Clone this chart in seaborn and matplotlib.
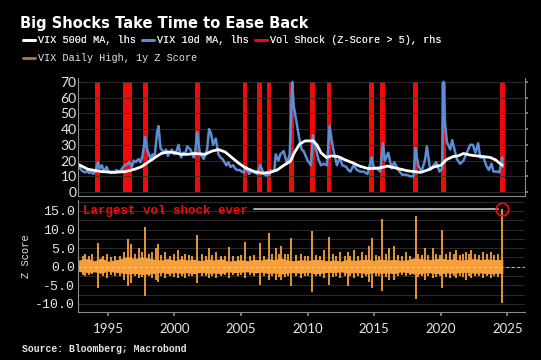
"""
Big Shocks Take Time to Ease Back
VIX 10d / 500d moving averages with vol-shock flags, plus the 1y Z score of the VIX daily high.
"""

import matplotlib.pyplot as plt
import seaborn as sns
from matplotlib.lines import Line2D
from matplotlib.ticker import FormatStrFormatter, MultipleLocator

# ---- data (decimal years) ----
vix10_years = [
    1992.8, 1993.0, 1993.15, 1993.3, 1993.45, 1993.6, 1993.75, 1993.9, 1994.1, 1994.25,
    1994.4, 1994.55, 1994.7, 1994.9, 1995.05, 1995.2, 1995.35, 1995.5, 1995.65, 1995.8,
    1996.0, 1996.15, 1996.3, 1996.5, 1996.6, 1996.8, 1996.95, 1997.1, 1997.3, 1997.45,
    1997.6, 1997.8, 1997.95, 1998.2, 1998.35, 1998.5, 1998.7, 1998.8, 1998.95, 1999.2,
    1999.35, 1999.5, 1999.8, 2000.0, 2000.15, 2000.3, 2000.5, 2000.65, 2000.8, 2000.95,
    2001.2, 2001.45, 2001.55, 2001.7, 2001.9, 2002.05, 2002.2, 2002.45, 2002.6, 2002.75,
    2002.9, 2003.1, 2003.3, 2003.45, 2003.6, 2003.9, 2004.05, 2004.2, 2004.4, 2004.55,
    2004.7, 2004.9, 2005.05, 2005.2, 2005.4, 2005.6, 2005.75, 2005.9, 2006.2, 2006.45,
    2006.7, 2006.9, 2007.1, 2007.2, 2007.35, 2007.5, 2007.6, 2007.8, 2007.95, 2008.2,
    2008.45, 2008.65, 2008.75, 2008.8, 2008.85, 2008.95, 2009.15, 2009.35, 2009.55, 2009.7,
    2009.8, 2010.0, 2010.25, 2010.4, 2010.55, 2010.8, 2011.0, 2011.2, 2011.45, 2011.65,
    2011.8, 2011.95, 2012.2, 2012.4, 2012.6, 2012.9, 2013.05, 2013.2, 2013.45, 2013.7,
    2013.95, 2014.2, 2014.5, 2014.8, 2014.95, 2015.2, 2015.45, 2015.65, 2015.8, 2016.05,
    2016.3, 2016.5, 2016.8, 2017.1, 2017.4, 2017.7, 2017.95, 2018.1, 2018.3, 2018.55,
    2018.8, 2018.95, 2019.2, 2019.45, 2019.65, 2019.9, 2020.1, 2020.2, 2020.3, 2020.45,
    2020.7, 2020.85, 2021.05, 2021.2, 2021.45, 2021.7, 2021.95, 2022.2, 2022.4, 2022.6,
    2022.8, 2022.95, 2023.2, 2023.4, 2023.6, 2023.8, 2023.95, 2024.2, 2024.4, 2024.6,
    2024.65,
]
vix10_vals = [
    17, 14, 13, 12.5, 13.5, 12, 13, 11.5, 14, 19,
    15, 17, 13, 16, 13, 12, 13, 12.5, 14, 13,
    14, 16, 17, 18, 19, 16, 20, 19, 21, 19,
    23, 35, 27, 21, 24, 22, 38, 42, 28, 25,
    27, 23, 27, 24, 26, 30, 22, 25, 24, 29,
    27, 22, 25, 38, 25, 23, 21, 27, 40, 37,
    30, 34, 24, 22, 21, 17, 19, 16, 17, 15,
    14, 14, 13, 12.5, 16, 11.5, 13, 13, 11.5, 17,
    11.5, 10.5, 11, 14, 13, 14, 24, 20, 24, 26,
    18, 24, 45, 60, 70, 55, 45, 35, 27, 26,
    24, 20, 17, 36, 30, 21, 17, 18, 17, 42,
    33, 26, 17, 22, 17, 16, 14, 13, 17, 14,
    13, 13, 11.5, 22, 16, 15, 13, 31, 20, 25,
    15, 19, 14, 11, 11, 10, 10, 28, 17, 13,
    20, 29, 14, 17, 19, 13, 15, 70, 45, 32,
    27, 33, 26, 21, 18, 20, 25, 30, 30, 25,
    31, 22, 22, 17, 14, 18, 13, 13, 12.5, 22,
    16,
]

ma500_years = [
    1992.8, 1993.5, 1994.5, 1995.5, 1996.3, 1997.0, 1997.5, 1998.2, 1999.0, 1999.5,
    2000.0, 2000.5, 2001.0, 2001.5, 2002.3, 2002.8, 2003.3, 2003.8, 2004.3, 2004.8,
    2005.3, 2006.0, 2006.6, 2007.2, 2007.7, 2008.3, 2008.7, 2009.0, 2009.4, 2009.8,
    2010.4, 2010.7, 2011.0, 2011.4, 2011.8, 2012.3, 2012.8, 2013.4, 2013.9, 2014.5,
    2015.0, 2015.5, 2016.0, 2016.5, 2017.0, 2017.5, 2018.0, 2018.5, 2019.0, 2019.5,
    2020.0, 2020.4, 2020.9, 2021.3, 2021.7, 2022.2, 2022.7, 2023.2, 2023.7, 2024.1,
    2024.6,
]
ma500_vals = [
    17.5, 14.5, 13, 12.5, 13, 14.5, 16, 20, 24.5, 25.5,
    25, 24, 24, 24.5, 24, 26, 27, 25.5, 22, 18.5,
    15.5, 13, 12, 12.5, 14, 17.5, 19.5, 25, 30.5, 32.5,
    32.5, 30, 25, 22, 23, 22.5, 20.5, 18.5, 16.5, 15,
    15, 15.5, 16.5, 15.5, 14.5, 13.5, 13, 12.5, 14, 16,
    17, 20.5, 22.5, 23, 24.5, 23.5, 23, 22.5, 22, 20.5,
    17,
]

shock_years = [1994.2, 1996.3, 1996.6, 1997.85, 2001.7, 2005.3, 2006.4, 2007.1,
               2008.8, 2010.35, 2011.6, 2014.8, 2015.6, 2018.1, 2020.2, 2024.6]
shock_flag = [1, 1, 1, 1, 1, 1, 1, 1, 1, 1, 1, 1, 1, 1, 1, 1]

# body of the z score: typical daily range per half year
band_years = [1992.8, 1993.5, 1994.0, 1994.5, 1995.0, 1995.5, 1996.0, 1996.5, 1997.0,
              1997.5, 1998.0, 1998.5, 1999.0, 1999.5, 2000.0, 2000.5, 2001.0, 2001.5,
              2002.0, 2002.5, 2003.0, 2003.5, 2004.0, 2004.5, 2005.0, 2005.5, 2006.0,
              2006.5, 2007.0, 2007.5, 2008.0, 2008.5, 2009.0, 2009.5, 2010.0, 2010.5,
              2011.0, 2011.5, 2012.0, 2012.5, 2013.0, 2013.5, 2014.0, 2014.5, 2015.0,
              2015.5, 2016.0, 2016.5, 2017.0, 2017.5, 2018.0, 2018.5, 2019.0, 2019.5,
              2020.0, 2020.5, 2021.0, 2021.5, 2022.0, 2022.5, 2023.0, 2023.5, 2024.0,
              2024.65]
band_hi = [1.8, 2.2, 1.6, 2.4, 1.5, 1.8, 2.2, 2.8, 2.2, 2.6, 2.4, 2.0, 1.8, 2.2, 1.7,
           2.2, 1.8, 2.0, 1.6, 2.1, 1.8, 2.2, 1.5, 1.7, 1.9, 1.6, 2.0, 1.8, 2.2, 1.9,
           2.4, 1.8, 1.6, 1.9, 1.7, 2.0, 1.9, 1.6, 1.8, 1.5, 2.0, 1.7, 1.9, 2.0, 1.7,
           2.1, 1.8, 2.0, 1.7, 1.9, 2.4, 2.2, 1.9, 2.1, 2.3, 2.0, 2.1, 1.8, 2.0, 2.2,
           1.9, 2.1, 1.9, 2.0]
band_lo = [-1.3, -1.6, -1.4, -1.8, -1.2, -1.5, -1.7, -2.0, -1.8, -2.1, -2.0, -1.8,
           -1.5, -1.9, -1.6, -1.8, -1.6, -1.9, -1.5, -1.8, -1.7, -1.9, -1.4, -1.6, -1.5,
           -1.4, -1.7, -1.5, -1.8, -1.7, -2.0, -1.7, -1.6, -1.8, -1.5, -1.9, -1.8, -1.5,
           -1.6, -1.4, -1.8, -1.6, -1.7, -1.9, -1.6, -1.8, -1.7, -1.9, -1.4, -1.6, -2.0,
           -1.9, -1.6, -1.8, -1.9, -1.7, -1.8, -1.6, -1.5, -1.8, -1.7, -1.9, -1.8, -1.8]

# individual spikes of the z score
spike_years = [1993.1, 1993.3, 1993.6, 1993.8, 1994.25, 1994.6, 1994.9, 1995.2, 1995.5,
               1995.9, 1996.2, 1996.5, 1996.7, 1997.0, 1997.3, 1997.55, 1997.8, 1998.1,
               1998.35, 1998.6, 1998.75, 1999.0, 1999.3, 1999.7, 2000.0, 2000.3, 2000.55,
               2000.8, 2001.1, 2001.35, 2001.7, 2002.1, 2002.35, 2002.6, 2002.85, 2003.1,
               2003.5, 2003.8, 2004.1, 2004.4, 2004.8, 2005.0, 2005.3, 2005.7, 2006.0,
               2006.4, 2006.7, 2007.1, 2007.35, 2007.6, 2007.85, 2008.0, 2008.3, 2008.55,
               2008.75, 2009.1, 2009.5, 2009.8, 2010.05, 2010.3, 2010.6, 2010.9, 2011.2,
               2011.6, 2011.9, 2012.15, 2012.4, 2012.8, 2013.0, 2013.2, 2013.5, 2013.8,
               2014.1, 2014.35, 2014.6, 2014.8, 2015.1, 2015.35, 2015.6, 2015.9, 2016.1,
               2016.5, 2016.8, 2017.1, 2017.4, 2017.7, 2018.1, 2018.3, 2018.55, 2018.8,
               2019.05, 2019.4, 2019.65, 2019.9, 2020.1, 2020.4, 2020.7, 2020.95, 2021.1,
               2021.4, 2021.65, 2021.9, 2022.1, 2022.3, 2022.6, 2022.85, 2023.2, 2023.45,
               2023.8, 2024.0, 2024.3, 2024.6]
spike_hi = [3.0, 3.5, 2.8, 3.5, 6.5, 3.0, 3.5, 2.6, 3.0,
            2.8, 4.0, 7.5, 6.0, 3.5, 5.0, 4.0, 10.8, 3.5,
            4.0, 5.0, 6.0, 3.2, 4.0, 3.0, 3.5, 4.5, 3.0,
            3.5, 3.2, 3.0, 8.5, 3.5, 3.0, 5.0, 3.2, 4.0,
            3.0, 2.8, 5.2, 2.8, 3.0, 3.2, 6.7, 3.0, 3.2,
            6.5, 3.0, 9.0, 3.5, 5.0, 3.5, 5.5, 3.5, 3.5,
            7.7, 3.2, 3.5, 3.0, 2.8, 9.6, 3.2, 3.0, 4.5,
            7.9, 3.5, 3.0, 4.0, 3.0, 4.0, 3.0, 4.5, 3.0,
            4.0, 3.2, 5.5, 7.7, 3.2, 3.0, 12.8, 3.5, 5.0,
            5.5, 3.2, 3.0, 4.0, 3.0, 13.7, 3.5, 3.2, 5.0,
            3.2, 5.0, 3.5, 3.2, 9.9, 3.5, 4.0, 3.5, 4.5,
            3.2, 3.5, 4.0, 3.5, 4.5, 3.5, 3.2, 4.0, 3.5,
            4.0, 3.2, 3.5, 15.5]
spike_lo = [-2.2, -2.5, -2.3, -2.0, -5.7, -2.5, -3.0, -2.2, -2.5,
            -2.4, -3.5, -5.3, -4.5, -2.6, -3.0, -2.8, -8.0, -2.6,
            -3.0, -3.5, -4.0, -2.5, -3.0, -2.4, -2.8, -3.0, -2.5,
            -3.0, -2.6, -2.4, -4.4, -2.6, -2.5, -3.0, -2.6, -3.0,
            -2.4, -2.2, -3.0, -2.2, -2.4, -2.3, -3.0, -2.3, -2.5,
            -4.9, -2.4, -3.5, -2.6, -3.5, -2.8, -3.5, -2.8, -2.6,
            -5.3, -2.6, -3.0, -2.4, -2.4, -6.7, -2.6, -2.5, -3.0,
            -5.0, -2.8, -2.4, -3.0, -2.4, -5.3, -2.5, -3.0, -2.4,
            -3.0, -2.6, -4.0, -5.8, -2.6, -2.4, -6.6, -2.8, -3.5,
            -3.5, -2.6, -2.3, -2.5, -2.3, -8.7, -2.8, -2.6, -3.5,
            -2.6, -3.0, -2.8, -2.5, -5.8, -2.8, -3.0, -2.6, -3.0,
            -2.5, -2.8, -3.5, -2.6, -3.0, -2.6, -2.5, -3.0, -2.6,
            -3.0, -2.6, -2.8, -9.8]

largest_year = 2024.6
largest_z = 15.5
year_ticks = [1995, 2000, 2005, 2010, 2015, 2020, 2025]

# ---- style ----
BLUE = "#5B8ED6"
RED = "#F00A0A"
ORANGE = "#F5A03A"
GRID = "#333333"
SPINE = "#8A8A8A"
TXT = "#E6E6E6"
MONO = ["Liberation Mono", "DejaVu Sans Mono"]

sns.set_theme(style="dark", rc={
    "figure.facecolor": "black",
    "axes.facecolor": "black",
    "savefig.facecolor": "black",
})
plt.rcParams["font.family"] = ["DejaVu Sans"]

fig = plt.figure(figsize=(5.41, 3.6), dpi=100)
ax = fig.add_axes([0.144, 0.4556, 0.826, 0.3278])
axz = fig.add_axes([0.144, 0.1333, 0.826, 0.3117])

# ---- top panel: VIX moving averages + shock flags ----
ax2 = ax.twinx()
ax2.bar(shock_years, shock_flag, width=0.36, color=RED, linewidth=0)
ax2.set_ylim(-2.5 / 70, 72.5 / 70)
ax2.set_yticks([i / 7 for i in range(8)])
ax2.set_yticklabels([])
ax2.tick_params(axis="y", right=True, length=2, color=SPINE)
ax.set_zorder(ax2.get_zorder() + 1)
ax.patch.set_visible(False)

sns.lineplot(x=vix10_years, y=vix10_vals, ax=ax, color=BLUE, linewidth=1.8)
sns.lineplot(x=ma500_years, y=ma500_vals, ax=ax, color="white", linewidth=2.0)

ax.set_xlim(1992.75, 2026.3)
ax.set_ylim(-2.5, 72.5)
ax.set_yticks(range(0, 80, 10))
ax.set_xticks(year_ticks)
ax.set_xticklabels([])
ax.tick_params(axis="x", bottom=False)
ax.tick_params(axis="y", colors=TXT, labelsize=10, pad=1, length=0)
for lab in ax.get_yticklabels():
    lab.set_family(["Lato", "DejaVu Sans"])
ax.grid(axis="y", color=GRID, linewidth=0.6)
ax.grid(axis="x", visible=False)

for a in (ax, ax2):
    for side in ("top", "left", "right", "bottom"):
        a.spines[side].set_visible(False)
ax.spines["left"].set_visible(True)
ax.spines["bottom"].set_visible(True)
ax2.spines["right"].set_visible(True)
for s in (ax.spines["left"], ax.spines["bottom"], ax2.spines["right"]):
    s.set_color(SPINE)
    s.set_linewidth(0.8)

# ---- bottom panel: z score ----
axz.fill_between(band_years, band_lo, band_hi, color=ORANGE, linewidth=0)
axz.vlines(spike_years, spike_lo, spike_hi, color=ORANGE, linewidth=1.3)
axz.axhline(0, color="#DDDDDD", linewidth=0.8, linestyle=(0, (2.5, 2.5)), alpha=0.8)

axz.set_xlim(1992.75, 2026.3)
axz.set_ylim(-12.2, 18)
axz.yaxis.set_major_locator(MultipleLocator(5))
axz.yaxis.set_minor_locator(MultipleLocator(2.5))
axz.yaxis.set_major_formatter(FormatStrFormatter("%.1f"))
axz.set_xticks(year_ticks)
axz.grid(axis="y", which="both", color=GRID, linewidth=0.6)
axz.grid(axis="x", visible=False)
axz.tick_params(axis="y", colors=TXT, labelsize=9.5, pad=2, length=0)
axz.tick_params(axis="x", colors=TXT, labelsize=9.5, pad=5, bottom=True, length=3, color=SPINE)
for lab in axz.get_yticklabels():
    lab.set_family(MONO)
for lab in axz.get_xticklabels():
    lab.set_family(["Lato", "DejaVu Sans"])
axz.set_ylabel("Z Score", color=TXT, fontsize=7.5, family=MONO, labelpad=3)
for side in ("top", "right"):
    axz.spines[side].set_visible(False)
for side in ("left", "bottom"):
    axz.spines[side].set_color(SPINE)
    axz.spines[side].set_linewidth(0.8)

# annotation: largest vol shock ever
axz.text(1993.1, 15.0, "Largest vol shock ever", color=RED, fontsize=9,
         family=MONO, fontweight="bold", va="center", ha="left")
axz.plot([2006.0, largest_year - 0.3], [largest_z, largest_z], color="#C8C8C8", linewidth=1.2)
axz.plot([largest_year], [largest_z], marker="o", markersize=9, markerfacecolor="none",
         markeredgecolor=RED, markeredgewidth=1.3)

# ---- title, legend, source ----
fig.text(0.037, 0.935, "Big Shocks Take Time to Ease Back", color="white",
         fontsize=10.5, fontweight="bold", ha="left", va="center")

handles1 = [
    Line2D([], [], color="white", linewidth=2),
    Line2D([], [], color=BLUE, linewidth=2),
    Line2D([], [], color=RED, linewidth=2),
]
labels1 = ["VIX 500d MA, lhs", "VIX 10d MA, lhs", "Vol Shock (Z-Score > 5), rhs"]
leg1 = fig.legend(handles1, labels1, loc="center left", bbox_to_anchor=(0.025, 0.888),
                  ncol=3, frameon=False, handlelength=1.2, handletextpad=0.3,
                  columnspacing=0.6, prop={"family": MONO, "size": 7.3}, labelcolor=TXT)
fig.legend([Line2D([], [], color="#B07A45", linewidth=2)], ["VIX Daily High, 1y Z Score"],
           loc="center left", bbox_to_anchor=(0.025, 0.838), frameon=False,
           handlelength=1.2, handletextpad=0.3, prop={"family": MONO, "size": 7.3},
           labelcolor=TXT)
fig.add_artist(leg1)

fig.text(0.04, 0.03, "Source: Bloomberg; Macrobond", color=TXT, fontsize=7,
         family=MONO, fontweight="bold", ha="left", va="center")

fig.savefig("out.png", dpi=100, facecolor="black")
